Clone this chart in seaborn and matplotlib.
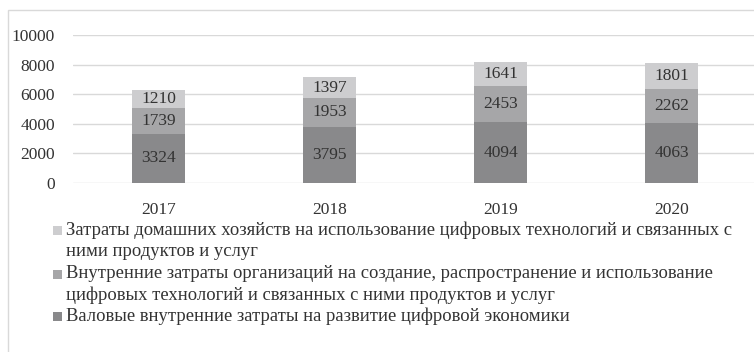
import matplotlib
matplotlib.use("Agg")
import matplotlib.pyplot as plt
from matplotlib.patches import Rectangle
import numpy as np
import pandas as pd
import seaborn as sns

# Data
years = ["2017", "2018", "2019", "2020"]
gross_costs = [3324, 3795, 4094, 4063]          # нижний сегмент
org_costs = [1739, 1953, 2453, 2262]            # средний сегмент
household_costs = [1210, 1397, 1641, 1801]      # верхний сегмент

series_labels = [
    "Затраты домашних хозяйств на использование цифровых технологий и связанных с\nними продуктов и услуг",
    "Внутренние затраты организаций на создание, распространение и использование\nцифровых технологий и связанных с ними продуктов и услуг",
    "Валовые внутренние затраты на развитие цифровой экономики",
]
y_ticks = [0, 2000, 4000, 6000, 8000, 10000]

# Colours: top, middle, bottom
c_top = "#cdcdcf"
c_mid = "#a6a6a8"
c_bot = "#89898b"
text_color = "#333333"
grid_color = "#d9d9d9"
FONT = ["Liberation Serif", "DejaVu Serif"]

sns.set_theme(style="white")
plt.rcParams["font.family"] = FONT
plt.rcParams["font.serif"] = FONT

W, H = 754, 352
fig = plt.figure(figsize=(W / 100, H / 100), dpi=100)
fig.patch.set_facecolor("white")

# Chart border (partly cut off at right and bottom)
fig.patches.append(Rectangle((8 / W, -0.1), 1.2, 1 - 10 / H + 0.1,
                             transform=fig.transFigure, fill=False,
                             edgecolor=grid_color, linewidth=1.0))

ax = fig.add_axes([73 / W, 1 - 183 / H, 684 / W, 148 / H])

df = pd.DataFrame({
    "year": years,
    "bot": gross_costs,
    "mid": org_costs,
    "top": household_costs,
})
df["cum_mid"] = df["bot"] + df["mid"]
df["cum_top"] = df["cum_mid"] + df["top"]

bw = 0.31
for col, color in (("cum_top", c_top), ("cum_mid", c_mid), ("bot", c_bot)):
    sns.barplot(data=df, x="year", y=col, color=color, saturation=1,
                width=bw, ax=ax, order=years, zorder=3,
                linewidth=0, edgecolor="none")

# Segment values
for i, row in df.iterrows():
    for lo, val in ((0, row["bot"]), (row["bot"], row["mid"]), (row["cum_mid"], row["top"])):
        ax.text(i, lo + val / 2, f"{val}", ha="center", va="center",
                fontsize=12.5, color=text_color, zorder=4, family=FONT)

ax.set_xlim(-0.5, len(years) - 0.5)
ax.set_ylim(0, 10000)
ax.set_yticks(y_ticks)
ax.set_yticklabels([str(t) for t in y_ticks], family=FONT)
ax.set_xticks(range(len(years)))
ax.set_xticklabels(years, family=FONT)
ax.set_xlabel("")
ax.set_ylabel("")
ax.yaxis.grid(True, color=grid_color, linewidth=1.0, zorder=0)
ax.xaxis.grid(False)
for s in ax.spines.values():
    s.set_visible(False)
ax.tick_params(axis="both", length=0, labelsize=12.5, labelcolor=text_color)
ax.tick_params(axis="y", pad=13)
ax.tick_params(axis="x", pad=14)

# Legend drawn below the plot
legend_colors = [c_top, c_mid, c_bot]
line_y = [[230, 252], [274, 295], [316]]
for color, label, ys in zip(legend_colors, series_labels, line_y):
    yc = ys[0]
    fig.patches.append(Rectangle((53 / W, 1 - (yc + 4.5) / H), 9 / W, 9 / H,
                                 transform=fig.transFigure,
                                 facecolor=color, edgecolor="none"))
    for line, y in zip(label.split("\n"), ys):
        fig.text(66 / W, 1 - y / H, line, ha="left", va="center",
                 fontsize=13.4, color=text_color, family=FONT)

fig.savefig("out.png", dpi=100, facecolor="white")
